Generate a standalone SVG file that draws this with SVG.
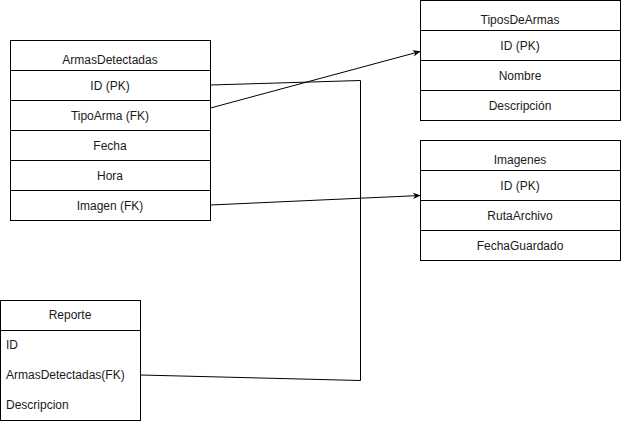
<svg xmlns="http://www.w3.org/2000/svg" width="621" height="421" viewBox="0 0 621 421">
<style>
.box{fill:#fff;stroke:#000;stroke-width:1}
.ln{stroke:#000;stroke-width:1}
text{font-family:"Liberation Sans",Arial,sans-serif;font-size:12px;fill:#1a1a1a}
.c{text-anchor:middle}
.con{fill:none;stroke:#000;stroke-width:1}
</style>
<defs>
<marker id="arr" viewBox="0 0 10 10" refX="9" refY="5" markerWidth="8" markerHeight="8" orient="auto" markerUnits="userSpaceOnUse">
<path d="M0,1 L10,5 L0,9 L3,5 Z" fill="#000"/>
</marker>
</defs>
<rect width="621" height="421" fill="#fff"/>
<g id="ArmasDetectadas">
<rect class="box" x="10.5" y="40.5" width="200" height="180"/>
<line class="ln" x1="10.5" y1="70.5" x2="210.5" y2="70.5"/>
<line class="ln" x1="10.5" y1="100.5" x2="210.5" y2="100.5"/>
<line class="ln" x1="10.5" y1="130.5" x2="210.5" y2="130.5"/>
<line class="ln" x1="10.5" y1="160.5" x2="210.5" y2="160.5"/>
<line class="ln" x1="10.5" y1="190.5" x2="210.5" y2="190.5"/>
<text class="c" x="110" y="64">ArmasDetectadas</text>
<text class="c" x="110" y="90">ID (PK)</text>
<text class="c" x="110" y="120">TipoArma (FK)</text>
<text class="c" x="110" y="150">Fecha</text>
<text class="c" x="110" y="180">Hora</text>
<text class="c" x="110" y="210">Imagen (FK)</text>
</g>
<g id="TiposDeArmas">
<rect class="box" x="420.5" y="0.5" width="200" height="120"/>
<line class="ln" x1="420.5" y1="30.5" x2="620.5" y2="30.5"/>
<line class="ln" x1="420.5" y1="60.5" x2="620.5" y2="60.5"/>
<line class="ln" x1="420.5" y1="90.5" x2="620.5" y2="90.5"/>
<text class="c" x="520" y="24">TiposDeArmas</text>
<text class="c" x="520" y="50">ID (PK)</text>
<text class="c" x="520" y="80">Nombre</text>
<text class="c" x="520" y="110">Descripción</text>
</g>
<g id="Imagenes">
<rect class="box" x="420.5" y="140.5" width="200" height="120"/>
<line class="ln" x1="420.5" y1="170.5" x2="620.5" y2="170.5"/>
<line class="ln" x1="420.5" y1="200.5" x2="620.5" y2="200.5"/>
<line class="ln" x1="420.5" y1="230.5" x2="620.5" y2="230.5"/>
<text class="c" x="520" y="164">Imagenes</text>
<text class="c" x="520" y="190">ID (PK)</text>
<text class="c" x="520" y="220">RutaArchivo</text>
<text class="c" x="520" y="250">FechaGuardado</text>
</g>
<g id="Reporte">
<rect class="box" x="0.5" y="300.5" width="140" height="120"/>
<line class="ln" x1="0.5" y1="330.5" x2="140.5" y2="330.5"/>
<text class="c" x="70" y="319">Reporte</text>
<text x="6" y="349">ID</text>
<text x="6" y="379">ArmasDetectadas(FK)</text>
<text x="6" y="409">Descripcion</text>
</g>
<g id="connectors">
<polyline class="con" points="210.5,85 360.5,80.5 360.5,380.5 140.5,375"/>
<line class="con" x1="210.5" y1="108" x2="420" y2="51.5" marker-end="url(#arr)"/>
<line class="con" x1="210.5" y1="205" x2="420" y2="195.5" marker-end="url(#arr)"/>
</g>
</svg>
